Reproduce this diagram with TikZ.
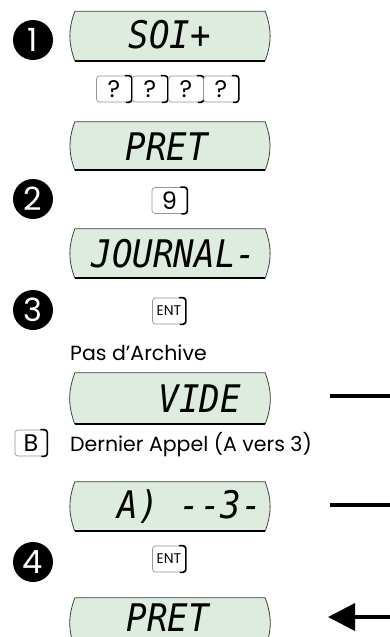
\documentclass[tikz,border=0pt]{standalone}
\usepackage{fontspec}
\setmainfont{Poppins}
\newfontfamily\lcdfont{DejaVu Sans Mono}[FakeStretch=0.9]
\usetikzlibrary{arrows.meta}
\definecolor{lcd}{RGB}{222,236,224}
\definecolor{keyedge}{RGB}{150,150,150}
\begin{document}
\begin{tikzpicture}[x=1pt,y=-1pt,
  disp/.style={minimum width=196pt,minimum height=#1,inner sep=0pt},
  disp/.default=49pt,
  lcdtext/.style={font=\lcdfont\itshape\fontsize{38}{38}\selectfont,inner sep=0pt},
  keybox/.style={draw=keyedge,line width=0.7pt,fill=white,rounded corners=3pt,
     minimum width=35pt,minimum height=26pt,inner sep=0pt,font=\fontsize{24}{24}\selectfont},
  entkey/.style={keybox,minimum width=33pt,font=\fontsize{14}{14}\selectfont},
  stepcircle/.style={circle,fill=black,text=white,minimum size=40pt,inner sep=0pt,
     font=\fontsize{32}{32}\selectfont},
  label/.style={inner sep=0pt,font=\fontsize{20.5}{20.5}\selectfont},
  flow/.style={line width=3.5pt}
]
\useasboundingbox (0,0) rectangle (390,637);
\newcommand\lcdshape[1]{%
  \fill[lcd] ([xshift=3pt]#1.north west) -- ([xshift=-3pt]#1.north east)
     to[bend left=20] ([xshift=-3pt]#1.south east) -- ([xshift=3pt]#1.south west)
     to[bend left=20] cycle;
  \draw[black!75,line width=0.8pt] ([xshift=3pt]#1.north west) -- ([xshift=-3pt]#1.north east)
     to[bend left=20] ([xshift=-3pt]#1.south east);
  \draw[black!75,line width=0.8pt] ([xshift=3pt]#1.south west) to[bend left=20] ([xshift=3pt]#1.north west);
  \draw[black,line width=1.6pt] ([xshift=-3pt]#1.south east) -- ([xshift=3pt]#1.south west);
}
\newcommand\keyshade[1]{%
  \draw[black,line width=1.6pt,rounded corners=3pt] ([xshift=-7pt]#1.north east) -- (#1.north east) -- (#1.south east) -- ([xshift=-6pt]#1.south east);
}
% displays
\node[disp] (d1) at (170,36) {}; \lcdshape{d1}
\node[lcdtext] (t1) at (170,35) {SOI+};
\node[disp=48pt] (d2) at (170,146) {}; \lcdshape{d2}
\node[lcdtext] (t2) at (167,147) {PRET};
\node[disp] (d3) at (170,253.5) {}; \lcdshape{d3}
\node[lcdtext] (t3) at (174,254) {JOURNAL-};
\node[disp=51pt] (d4) at (170,398.5) {}; \lcdshape{d4}
\node[lcdtext] (t4) at (200,399) {VIDE};
\node[disp] (d5) at (170,506.5) {}; \lcdshape{d5}
\node[lcdtext] (t5) at (190,507) {A) --3-};
\node[disp=50pt] (d6) at (170,623) {}; \lcdshape{d6}
\node[lcdtext] (t6) at (168,618) {PRET};
% step circles
\node[stepcircle] (c1) at (33,40) {1};
\node[stepcircle] (c2) at (33,199) {2};
\node[stepcircle] (c3) at (33,310) {3};
\node[stepcircle] (c4) at (33,562) {4};
% keys
\node[keybox] (q1) at (114,89) {?}; \keyshade{q1}
\node[keybox] (q2) at (150,89) {?}; \keyshade{q2}
\node[keybox] (q3) at (186,89) {?}; \keyshade{q3}
\node[keybox] (q4) at (221,89) {?}; \keyshade{q4}
\node[keybox] (k9) at (169.5,200.5) {9}; \keyshade{k9}
\node[entkey] (e1) at (169,311) {ENT}; \keyshade{e1}
\node[keybox,minimum width=32pt] (kb) at (31,443) {B}; \keyshade{kb}
\node[entkey] (e2) at (169,559) {ENT}; \keyshade{e2}
% labels
\node[label,anchor=base west] (l1) at (70,360) {Pas d’Archive};
\node[label,anchor=base west] (l2) at (70,451) {Dernier Appel (A vers 3)};
% flow lines
\coordinate (a1) at (330,396); \coordinate (b1) at (390,396);
\coordinate (a2) at (330,505); \coordinate (b2) at (390,505);
\coordinate (a3) at (328,617); \coordinate (b3) at (390,617);
\draw[flow] (a1) -- (b1);
\draw[flow] (a2) -- (b2);
\draw[flow,-{Triangle[length=27pt,width=27pt]}] (b3) -- (a3);
\end{tikzpicture}
\end{document}
